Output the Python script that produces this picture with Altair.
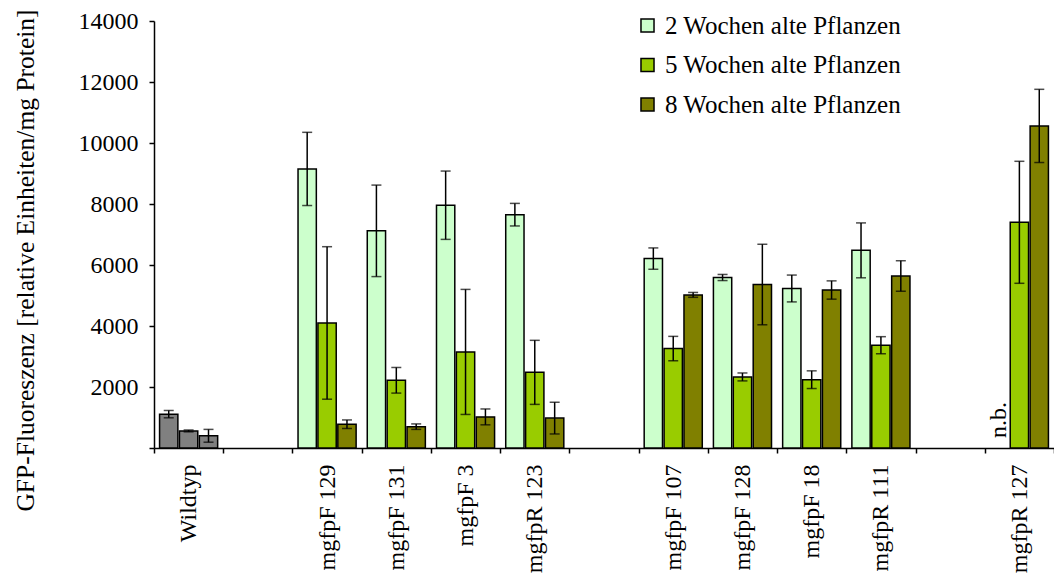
import altair as alt
import pandas as pd

# Plant lines in axis order; empty strings of spaces act as gaps between groups
slots = ["Wildtyp", " ", "mgfpF 129", "mgfpF 131", "mgfpF 3", "mgfpR 123", "  ",
         "mgfpF 107", "mgfpF 128", "mgfpF 18", "mgfpR 111", "   ", "mgfpR 127"]
lines = ["Wildtyp", "mgfpF 129", "mgfpF 131", "mgfpF 3", "mgfpR 123",
         "mgfpF 107", "mgfpF 128", "mgfpF 18", "mgfpR 111", "mgfpR 127"]

series = ["2 Wochen alte Pflanzen", "5 Wochen alte Pflanzen", "8 Wochen alte Pflanzen"]

# Mean GFP fluorescence per plant age (None = not determined)
mean_2w = [1110, 9150, 7120, 7960, 7650, 6210, 5590, 5230, 6480, None]
mean_5w = [560, 4100, 2220, 3150, 2480, 3260, 2330, 2240, 3370, 7400]
mean_8w = [400, 780, 700, 1020, 980, 5020, 5360, 5180, 5640, 10560]

# Standard deviations
sd_2w = [120, 1200, 1500, 1120, 370, 350, 100, 440, 900, None]
sd_5w = [30, 2500, 420, 2050, 1050, 400, 130, 290, 280, 2000]
sd_8w = [210, 140, 90, 260, 520, 80, 1320, 300, 500, 1200]

colors = ["#CCFFCC", "#99CC00", "#808000", "#808080"]

rows = []
for s, means, sds in zip(series, [mean_2w, mean_5w, mean_8w], [sd_2w, sd_5w, sd_8w]):
    for line, m, sd in zip(lines, means, sds):
        if m is None:
            continue
        rows.append({
            "line": line,
            "age": s,
            "value": m,
            "lo": m - sd,
            "hi": m + sd,
            "key": "Wildtyp" if line == "Wildtyp" else s,
        })
df = pd.DataFrame(rows)

nb = pd.DataFrame([{"line": "mgfpR 127", "age": series[0], "value": 0, "txt": "n.b."}])

FONT = "Liberation Serif"

x_enc = alt.X(
    "line:N",
    scale=alt.Scale(domain=slots, paddingInner=0, paddingOuter=0),
    axis=alt.Axis(
        title=None, labelAngle=-90, labelAlign="right", labelBaseline="middle",
        labelFont=FONT, labelFontSize=24, labelColor="black", labelPadding=11,
        tickBand="extent", tickSize=5, tickColor="black", tickWidth=1.5,
        domainColor="black", domainWidth=1.5, grid=False,
    ),
)
xo_enc = alt.XOffset("age:N", scale=alt.Scale(domain=series, paddingInner=0.08, paddingOuter=0.28))
y_scale = alt.Scale(domain=[0, 14000], nice=False)

bars = alt.Chart(df).mark_bar(stroke="black", strokeWidth=1.5).encode(
    x=x_enc,
    xOffset=xo_enc,
    y=alt.Y(
        "value:Q",
        scale=y_scale,
        axis=alt.Axis(
            title="GFP-Fluoreszenz [relative Einheiten/mg Protein]",
            values=list(range(0, 14001, 2000)),
            labelExpr="datum.value == 0 ? '' : datum.label",
            format="d",
            labelFont=FONT, labelFontSize=24, labelColor="black", labelPadding=11,
            tickSize=5, tickColor="black", tickWidth=1.5,
            domainColor="black", domainWidth=1.5, grid=False,
            titleFont=FONT, titleFontSize=25.5, titleFontWeight="normal", titleColor="black",
            titleX=-121, titleY=239, titleAngle=270, titleAlign="center",
            titleBaseline="alphabetic", titleLimit=0,
        ),
    ),
    fill=alt.Fill(
        "key:N",
        scale=alt.Scale(domain=series + ["Wildtyp"], range=colors),
        legend=alt.Legend(
            values=series, title=None, orient="none", legendX=481, legendY=-8,
            symbolType="square", symbolSize=170, symbolStrokeColor="black",
            symbolStrokeWidth=1.5, symbolOpacity=1,
            labelFont=FONT, labelFontSize=25, labelColor="black", labelOffset=5,
            labelLimit=0, rowPadding=13.5, padding=0,
        ),
    ),
)

whiskers = alt.Chart(df).mark_rule(color="black", strokeWidth=1.5).encode(
    x=x_enc, xOffset=xo_enc, y=alt.Y("lo:Q", scale=y_scale), y2="hi:Q"
)
cap_top = alt.Chart(df).mark_tick(color="black", thickness=1.5, size=10, orient="horizontal").encode(
    x=x_enc, xOffset=xo_enc, y=alt.Y("hi:Q", scale=y_scale)
)
cap_bottom = alt.Chart(df).mark_tick(color="black", thickness=1.5, size=10, orient="horizontal").encode(
    x=x_enc, xOffset=xo_enc, y=alt.Y("lo:Q", scale=y_scale)
)
nb_text = alt.Chart(nb).mark_text(
    angle=270, align="left", baseline="middle", dx=10, font=FONT, fontSize=24, color="black"
).encode(x=x_enc, xOffset=xo_enc, y=alt.Y("value:Q", scale=y_scale), text="txt:N")

chart = alt.layer(bars, whiskers, cap_top, cap_bottom, nb_text).properties(
    width=900,
    height=427,
    autosize=alt.AutoSizeParams(type="none"),
    padding={"left": 154, "top": 21, "right": 0, "bottom": 128},
    background="white",
).configure_view(stroke=None)

chart.save("out.html", embed_options={"renderer": "svg", "actions": False})
